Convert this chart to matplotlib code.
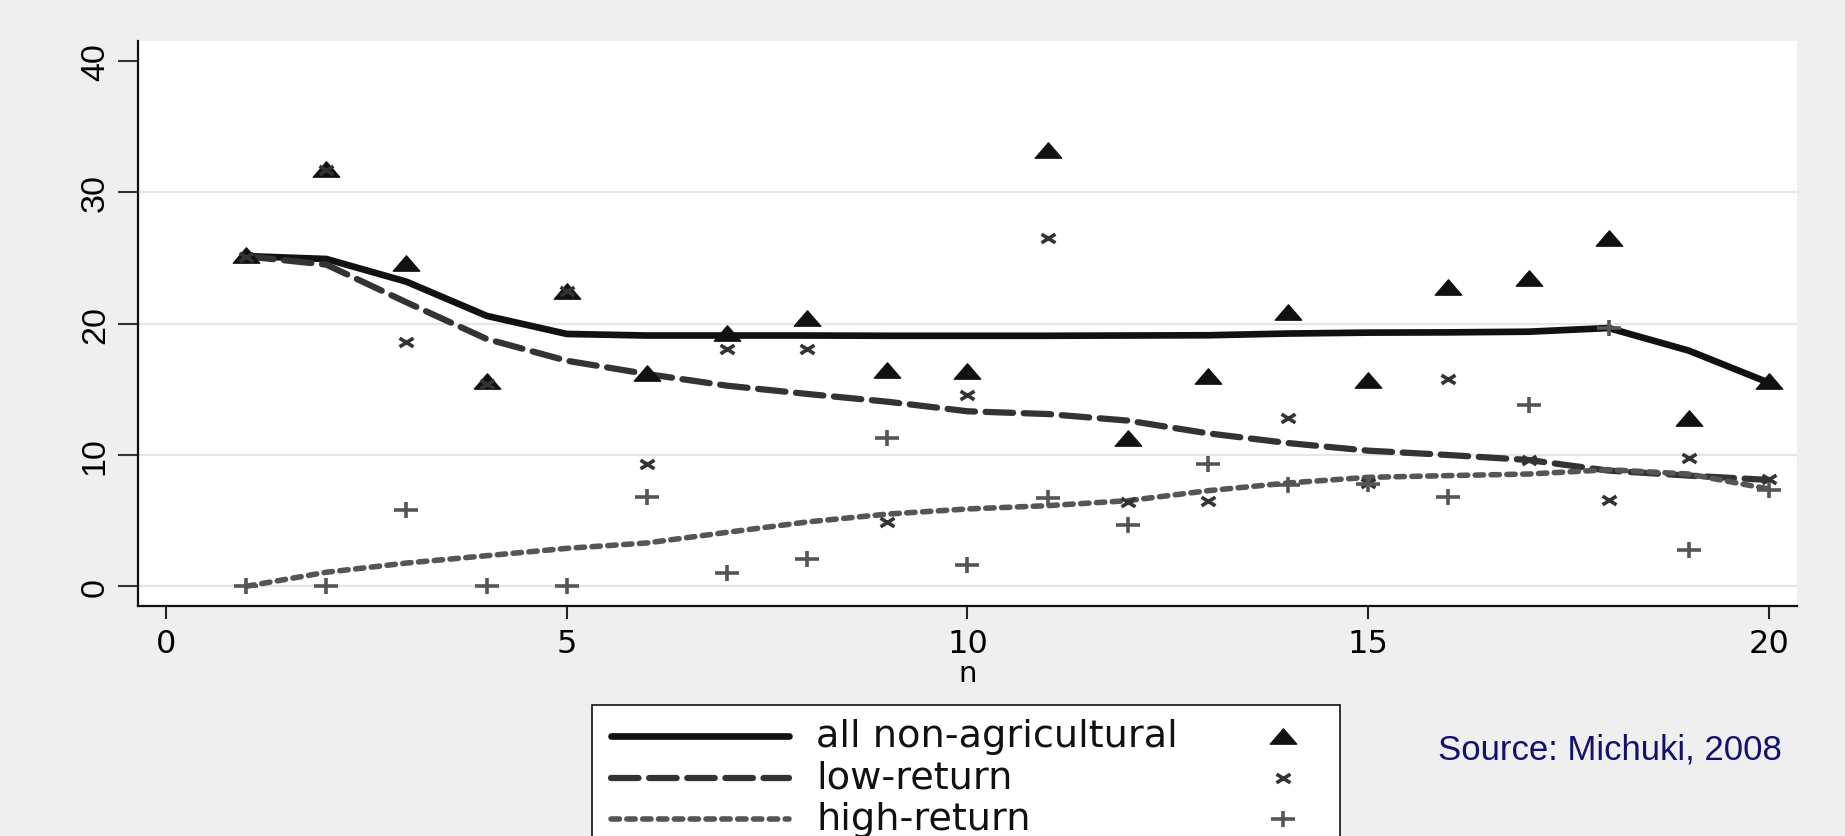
import matplotlib
matplotlib.use("Agg")
import matplotlib.pyplot as plt
from matplotlib.path import Path
from matplotlib.lines import Line2D
from matplotlib.patches import Rectangle

# ---------------- data ----------------
n = list(range(1, 21))
all_pts = [25.2, 31.8, 24.6, 15.6, 22.5, 16.25, 19.3, 20.4, 16.5, 16.4,
           33.2, 11.3, 16.0, 20.9, 15.7, 22.8, 23.5, 26.5, 12.8, 15.6]
low_pts = [25.1, 31.7, 18.6, 15.4, 22.5, 9.3, 18.1, 18.1, 4.9, 14.6,
           26.5, 6.4, 6.5, 12.8, 7.9, 15.8, 9.6, 6.6, 9.8, 8.2]
high_pts = [0.0, 0.0, 5.8, 0.0, 0.0, 6.8, 1.0, 2.1, 11.3, 1.6,
            6.7, 4.7, 9.3, 7.7, 7.8, 6.8, 13.8, 19.7, 2.8, 7.3]
all_line = [25.15, 24.93, 23.2, 20.6, 19.22, 19.1, 19.1, 19.1, 19.08, 19.08,
            19.08, 19.1, 19.12, 19.25, 19.32, 19.34, 19.39, 19.67, 17.95, 15.5]
low_line = [25.13, 24.5, 21.63, 18.84, 17.18, 16.17, 15.28, 14.65, 14.06, 13.33,
            13.12, 12.62, 11.65, 10.91, 10.33, 10.0, 9.62, 8.81, 8.43, 8.1]
high_line = [0.0, 1.07, 1.77, 2.33, 2.89, 3.3, 4.11, 4.9, 5.5, 5.89,
             6.14, 6.52, 7.28, 7.87, 8.3, 8.43, 8.55, 8.88, 8.55, 7.41]
labels = ["all non-agricultural", "low-return", "high-return"]
xticks = [0, 5, 10, 15, 20]
yticks = [0, 10, 20, 30, 40]
grid_vals = [0, 10, 20, 30]
source = "Source: Michuki, 2008"

# ---------------- styles ----------------
tri = Path([(0, 0.58), (-1, -0.58), (1, -0.58), (0, 0.58)],
           [Path.MOVETO, Path.LINETO, Path.LINETO, Path.CLOSEPOLY])
xmk = Path([(-1, -0.62), (1, 0.62), (-1, 0.62), (1, -0.62)],
           [Path.MOVETO, Path.LINETO, Path.MOVETO, Path.LINETO])
pmk = Path([(-1, 0), (1, 0), (0, -0.67), (0, 0.67)],
           [Path.MOVETO, Path.LINETO, Path.MOVETO, Path.LINETO])

line_styles = [
    dict(color="#111111", lw=4.8, ls="-", solid_capstyle="round"),
    dict(color="#333333", lw=4.5, ls=(0, (4.4, 1.7)), dash_capstyle="round"),
    dict(color="#555555", lw=4.0, ls=(0, (1.5, 1.35)), dash_capstyle="round"),
]
marker_styles = [
    dict(marker=tri, ms=19, mfc="#111111", mec="#111111", mew=1.0, ls="none"),
    dict(marker=xmk, ms=10, mfc="none", mec="#333333", mew=2.6, ls="none"),
    dict(marker=pmk, ms=17.5, mfc="none", mec="#555555", mew=2.6, ls="none"),
]

W, H = 1845, 837
fig = plt.figure(figsize=(W / 100, H / 100), dpi=100, facecolor="#efefef")
ax = fig.add_axes([137.7 / W, 1 - 606.7 / H, (1797 - 137.7) / W, (606.7 - 41.5) / H])
ax.set_facecolor("white")
ax.set_xlim(-0.353, 20.35)
ax.set_ylim(-1.478, 41.57)

for g in grid_vals:
    ax.axhline(g, color="#e6e6e6", lw=1.6, zorder=0.5)

for ys, st in zip([all_line, low_line, high_line], line_styles):
    ax.plot(n, ys, zorder=2, **st)
for ys, st in zip([all_pts, low_pts, high_pts], marker_styles):
    ax.plot(n, ys, zorder=3, clip_on=False, **st)

for s in ["top", "right"]:
    ax.spines[s].set_visible(False)
for s in ["left", "bottom"]:
    ax.spines[s].set_linewidth(1.6)
    ax.spines[s].set_color("#111111")

ax.set_xticks(xticks)
ax.set_xticklabels([str(t) for t in xticks], fontfamily="DejaVu Sans", fontsize=23)
ax.set_yticks(yticks)
ax.set_yticklabels([str(t) for t in yticks], fontfamily="Liberation Sans", fontsize=24.5,
                   rotation=90, va="center")
ax.tick_params(axis="x", length=9.4, width=1.5, color="#222222", pad=7)
ax.tick_params(axis="y", length=14.4, width=1.5, color="#333333", pad=5)
ax.set_xlabel("n", fontfamily="DejaVu Sans", fontsize=21, labelpad=0)

# ---------------- legend (drawn in figure pixels) ----------------
def fx(px):
    return px / W

def fy(py):
    return 1 - py / H

fig.patches.append(Rectangle((fx(592), fy(880)), fx(1340) - fx(592), fy(706) - fy(880),
                             transform=fig.transFigure, facecolor="white",
                             edgecolor="#111111", lw=1.2, zorder=5))
rows = [737, 779, 820]
for i, (lab, lst, mst) in enumerate(zip(labels, line_styles, marker_styles)):
    y = fy(rows[i])
    fig.add_artist(Line2D([fx(611), fx(789)], [y, y], transform=fig.transFigure, zorder=6, **lst))
    fig.text(fx(816), y, lab, fontfamily="DejaVu Sans", fontsize=27.5, va="center",
             ha="left", color="#111111", zorder=6)
    fig.add_artist(Line2D([fx(1283)], [y], transform=fig.transFigure, zorder=6, **mst))

fig.text(fx(1438), fy(750), source, fontfamily="Liberation Sans", fontsize=25,
         color="#12126e", ha="left", va="center")

fig.savefig("out.png", dpi=100, facecolor=fig.get_facecolor())
